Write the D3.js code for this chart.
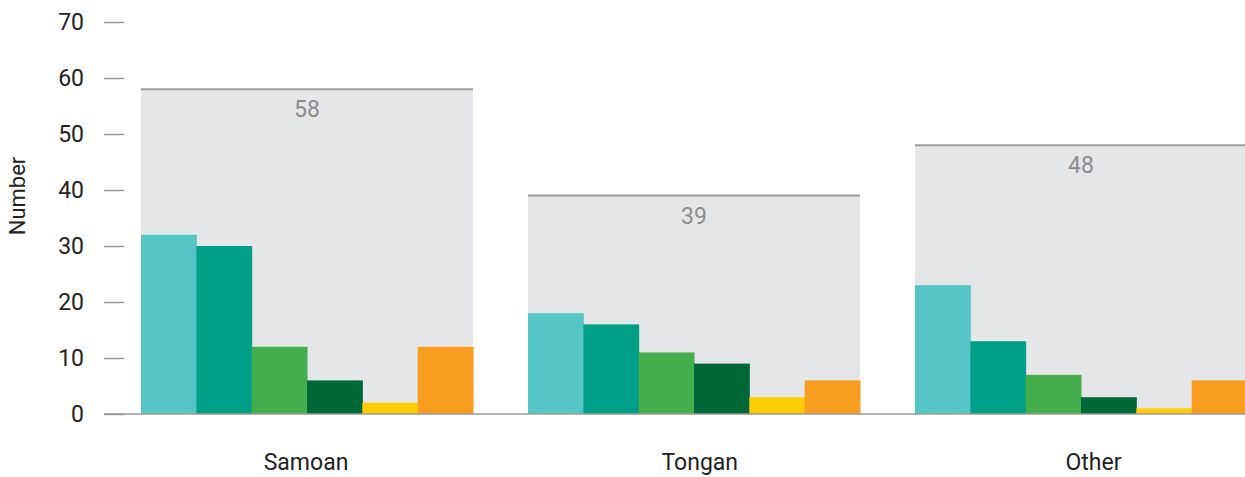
<!DOCTYPE html>
<html>
<head>
<meta charset="utf-8">
<script src="https://cdn.jsdelivr.net/npm/d3@7"></script>
<style>
  html, body { margin: 0; padding: 0; background: #ffffff; }
  svg { display: block; font-family: Roboto, "Noto Sans", sans-serif; }
</style>
</head>
<body>
<svg id="chart" width="1245" height="477"></svg>
<script>
// Groups, totals and per-group bar values
const categories = ["Samoan", "Tongan", "Other"];
const totals = [58, 39, 48];
const seriesKeys = ["s1", "s2", "s3", "s4", "s5", "s6"];
const seriesColors = ["#56c5c5", "#00a088", "#43ae4b", "#006838", "#ffcb05", "#f89d1f"];
const s1 = [32, 18, 23];
const s2 = [30, 16, 13];
const s3 = [12, 11, 7];
const s4 = [6, 9, 3];
const s5 = [2, 3, 1];
const s6 = [12, 6, 6];
const seriesValues = [s1, s2, s3, s4, s5, s6];
const yTicks = [0, 10, 20, 30, 40, 50, 60, 70];

const svg = d3.select("#chart");

const y = d3.scaleLinear().domain([0, 70]).range([414, 22]);
const x0 = d3.scaleBand().domain(categories).range([141, 1247]).paddingInner(0.142).paddingOuter(0);
const x1 = d3.scaleBand().domain(seriesKeys).range([0, x0.bandwidth()]).padding(0);
const color = d3.scaleOrdinal().domain(seriesKeys).range(seriesColors);
// Category labels sit on their own, slightly wider spacing
const xLabel = d3.scalePoint().domain(categories).range([305.5, 1093]);

// Y axis: short tick dashes, labels to the left, no domain line
const yAxis = d3.axisLeft(y).tickValues(yTicks).tickSize(20).tickPadding(20);
const yg = svg.append("g").attr("transform", "translate(124,0)").call(yAxis);
yg.select(".domain").remove();
yg.selectAll(".tick line").attr("stroke", "#9a9a9a").attr("stroke-width", 1.5);
yg.selectAll(".tick text")
  .attr("fill", "#222")
  .style("font-size", "23px")
  .style("font-family", "Roboto, sans-serif");

// Y axis title
svg.append("text")
  .attr("transform", "translate(25,196) rotate(-90)")
  .attr("text-anchor", "middle")
  .attr("fill", "#222")
  .style("font-size", "22px")
  .text("Number");

const groups = svg.append("g").selectAll("g")
  .data(categories)
  .join("g")
  .attr("transform", d => `translate(${x0(d)},0)`);

// Total background panel with top rule
groups.append("rect")
  .attr("x", 0)
  .attr("width", x0.bandwidth())
  .attr("y", (d, i) => y(totals[i]))
  .attr("height", (d, i) => y(0) - y(totals[i]))
  .attr("fill", "#e5e6e8");

groups.append("line")
  .attr("x1", 0)
  .attr("x2", x0.bandwidth())
  .attr("y1", (d, i) => y(totals[i]))
  .attr("y2", (d, i) => y(totals[i]))
  .attr("stroke", "#9d9d9d")
  .attr("stroke-width", 2);

groups.append("text")
  .attr("x", x0.bandwidth() / 2)
  .attr("y", (d, i) => y(totals[i]) + 28)
  .attr("text-anchor", "middle")
  .attr("fill", "#8c8c8c")
  .style("font-size", "23px")
  .text((d, i) => totals[i]);

// Bars per series
groups.selectAll("rect.bar")
  .data((d, i) => seriesKeys.map((k, j) => ({ key: k, value: seriesValues[j][i] })))
  .join("rect")
  .attr("class", "bar")
  .attr("x", d => x1(d.key))
  .attr("width", x1.bandwidth() + 0.5)
  .attr("y", d => y(d.value))
  .attr("height", d => y(0) - y(d.value))
  .attr("fill", d => color(d.key));

// Baseline
svg.append("line")
  .attr("x1", 104)
  .attr("x2", 1245)
  .attr("y1", y(0))
  .attr("y2", y(0))
  .attr("stroke", "#9a9a9a")
  .attr("stroke-width", 1.5);

// Category labels
const xAxis = d3.axisBottom(xLabel).tickSize(0).tickPadding(40);
const xg = svg.append("g").attr("transform", `translate(0,${y(0)})`).call(xAxis);
xg.select(".domain").remove();
xg.selectAll(".tick text")
  .attr("fill", "#222")
  .style("font-size", "23px")
  .style("font-family", "Roboto, sans-serif");
</script>
</body>
</html>
